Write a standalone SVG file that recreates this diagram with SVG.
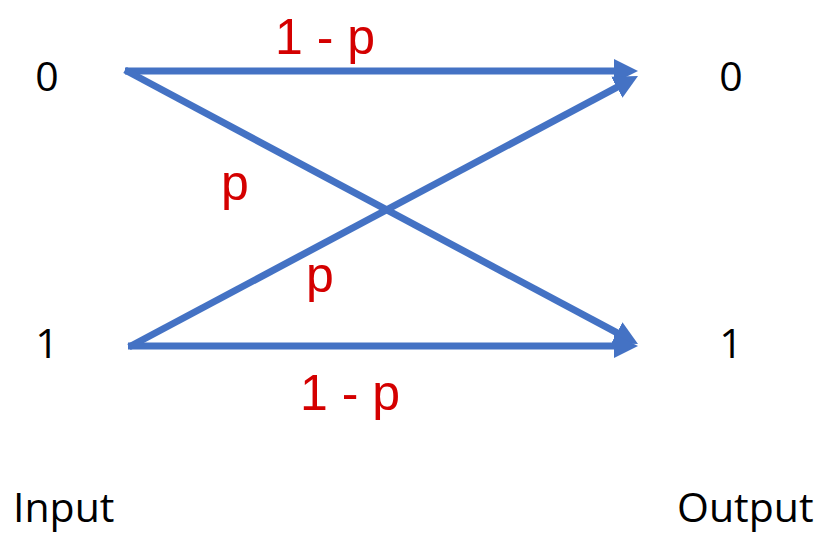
<svg xmlns="http://www.w3.org/2000/svg" width="823" height="534" viewBox="0 0 823 534">
<style>
.lbl{font-family:"Open Sans","Liberation Sans",Arial,sans-serif;font-size:41px;fill:#000}
.hw{font-family:"Liberation Sans",Arial,sans-serif;font-size:50px;fill:#d40000}
.edge{stroke:#4472C4;stroke-width:7;fill:none}
</style>
<defs>
<marker id="arr" markerUnits="userSpaceOnUse" markerWidth="24" markerHeight="24" viewBox="0 0 24 24" refX="1" refY="12" orient="auto">
<path d="M0,0 L24,12 L0,24 z" fill="#4472C4"/>
</marker>
</defs>
<g id="connectors">
<line class="edge" x1="125" y1="71" x2="615" y2="71" marker-end="url(#arr)"/>
<line class="edge" x1="125" y1="70" x2="617.7" y2="333.2" marker-end="url(#arr)"/>
<line class="edge" x1="129" y1="347" x2="617.7" y2="86.8" marker-end="url(#arr)"/>
<line class="edge" x1="128" y1="346" x2="615" y2="346" marker-end="url(#arr)"/>
</g>
<g id="in0"><text class="lbl" x="47" y="91" text-anchor="middle">0</text></g>
<g id="in1"><text class="lbl" x="47" y="358" text-anchor="middle">1</text></g>
<g id="out0"><text class="lbl" x="731" y="91" text-anchor="middle">0</text></g>
<g id="out1"><text class="lbl" x="731" y="358" text-anchor="middle">1</text></g>
<g id="input"><text class="lbl" x="13" y="522">Input</text></g>
<g id="output"><text class="lbl" x="677" y="522">Output</text></g>
<g id="labels">
<text class="hw" x="325" y="54" text-anchor="middle">1 - p</text>
<text class="hw" x="235" y="200" text-anchor="middle">p</text>
<text class="hw" x="320" y="292" text-anchor="middle">p</text>
<text class="hw" x="350" y="410" text-anchor="middle">1 - p</text>
</g>
</svg>
